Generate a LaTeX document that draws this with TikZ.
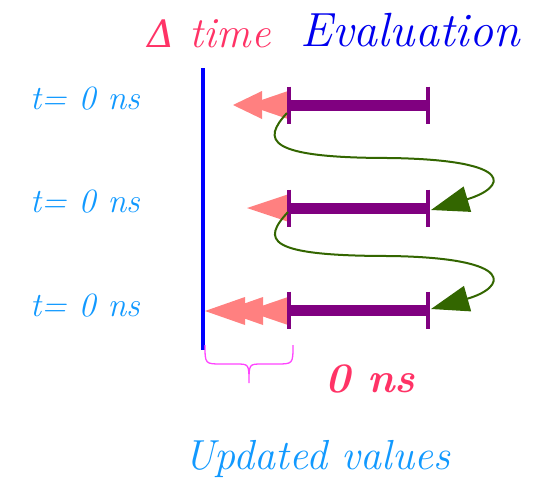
\documentclass[tikz,border=0pt]{standalone}
\usepackage{fontspec}
\newfontfamily\deltafont{DejaVu Serif}
\usetikzlibrary{arrows.meta,calc}
\definecolor{deltared}{HTML}{FF3366}
\definecolor{evalblue}{HTML}{0000EE}
\definecolor{tblue}{HTML}{1199FF}
\definecolor{salmon}{HTML}{FF8080}
\definecolor{barpurple}{HTML}{800080}
\definecolor{darkgreen}{HTML}{336600}
\definecolor{bracemag}{HTML}{FF44FF}
\tikzset{
  tlabel/.style={text=tblue, font=\fontsize{34}{40}\selectfont\itshape, anchor=base, inner sep=0pt},
  evbar/.style={barpurple, line width=11pt},
  evtick/.style={barpurple, line width=4.5pt},
  salhead/.style={fill=salmon, draw=none},
  loopline/.style={darkgreen, line width=2pt, -{Triangle[length=38pt,width=26pt]}},
  timeline/.style={blue, line width=4pt},
  bracepath/.style={bracemag, line width=1.3pt},
}
\newcommand\salheadat[3]{\fill[salhead] (#1,#3) -- (#2,#3-14) -- (#2,#3+14) -- cycle;}
\begin{document}
\begin{tikzpicture}[x=1pt,y=-1pt]
\useasboundingbox (0,0) rectangle (535,483);
% titles
\node[anchor=base, inner sep=0pt, text=deltared, font=\fontsize{43}{50}\selectfont\itshape] (dt) at (209,47) {{\deltafont\fontsize{38}{46}\selectfont\itshape Δ} time};
\node[anchor=base, inner sep=0pt, text=evalblue, font=\fontsize{48}{56}\selectfont\itshape] (ev) at (410,46) {Evaluation};
% time labels
\node[tlabel] (t1) at (85,109) {t= 0 ns};
\node[tlabel] (t2) at (85,212) {t= 0 ns};
\node[tlabel] (t3) at (85,316) {t= 0 ns};
% time line
\coordinate (top) at (203,68);
\coordinate (bot) at (203,350);
\draw[timeline] (top) -- (bot);
% salmon heads
\salheadat{233}{262}{105}
\salheadat{247}{288}{105}
\salheadat{247}{289}{208}
\salheadat{205}{245}{311}
\salheadat{223}{263}{311}
\salheadat{247}{288}{311}
% bars
\foreach \i/\y in {1/105,2/208,3/310}{
  \coordinate (s\i) at (289,\y);
  \coordinate (e\i) at (428,\y);
  \draw[evbar] (s\i) -- (e\i);
  \draw[evtick] ($(s\i)+(0,-18.5)$) -- ($(s\i)+(0,18.5)$);
  \draw[evtick] ($(e\i)+(0,-18.5)$) -- ($(e\i)+(0,18.5)$);
}
% green loops
\coordinate (g1s) at (287,113);
\coordinate (g1m) at (390,158);
\coordinate (g1e) at (431,210);
\draw[loopline] (g1s) .. controls (262,140) and (265,158) .. (g1m) .. controls (520,160) and (505,188) .. (g1e);
\coordinate (g2s) at (288,212);
\coordinate (g2m) at (390,256);
\coordinate (g2e) at (431,309);
\draw[loopline] (g2s) .. controls (262,240) and (265,256) .. (g2m) .. controls (520,258) and (505,288) .. (g2e);
% brace
\draw[bracepath] (205,345) .. controls (205,364) .. (222,364) -- (236,364) .. controls (249,364) .. (249,383)
  .. controls (249,364) .. (262,364) -- (276,364) .. controls (293,364) .. (293,345);
% bottom texts
\node[anchor=base, inner sep=0pt, text=deltared, font=\fontsize{42}{50}\selectfont\bfseries\itshape] (zero) at (370,392) {0 ns};
\node[anchor=base, inner sep=0pt, text=tblue, font=\fontsize{42}{50}\selectfont\itshape] (upd) at (317,469) {Updated values};
\end{tikzpicture}
\end{document}
